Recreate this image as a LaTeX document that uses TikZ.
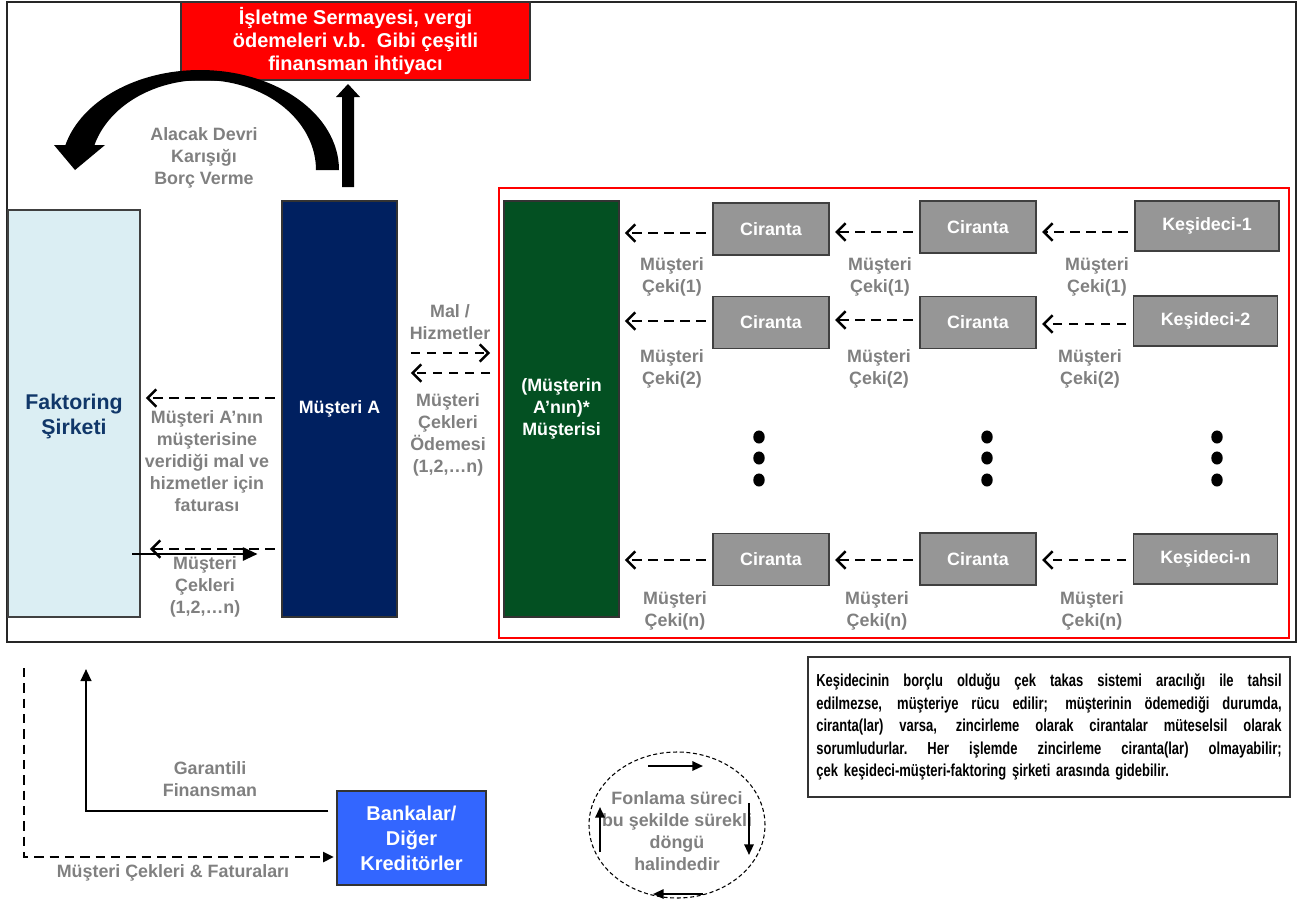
\documentclass[tikz,border=0pt]{standalone}
\usepackage{fontspec}
\setmainfont{Liberation Sans}
\newfontfamily\narrowfont[FakeStretch=0.75]{Liberation Sans}
\usetikzlibrary{arrows.meta,shapes.geometric}

\definecolor{ihtiyacred}{RGB}{255,0,0}
\definecolor{faktorfill}{RGB}{219,238,243}
\definecolor{faktortext}{RGB}{16,55,105}
\definecolor{musnavy}{RGB}{0,32,96}
\definecolor{musgreen}{RGB}{3,80,34}
\definecolor{cirgray}{RGB}{150,150,150}
\definecolor{lblgray}{RGB}{128,128,128}
\definecolor{bankblue}{RGB}{51,102,255}

\newcommand\boxfont{\fontsize{13.4pt}{16.5pt}\selectfont\bfseries}
\newcommand\notefont{\narrowfont\fontsize{13pt}{16.9pt}\selectfont\bfseries}
\newcommand\notline[1]{\leavevmode\hbox to 349pt{\spaceskip=0.22em plus 1fil\xspaceskip=0.22em plus 1fil #1}}

\begin{document}
\begin{tikzpicture}[
    x=0.75pt, y=-0.75pt, thick,
    tall box/.style={draw=black!80, minimum width=86.25pt, minimum height=312pt,
        font=\boxfont, align=center, text=white},
    ciranta box/.style={draw=black!75, line width=1.2pt, fill=cirgray,
        minimum width=87pt, minimum height=39pt, font=\boxfont, text=white},
    kesideci box/.style={ciranta box, minimum width=108pt, minimum height=37.5pt},
    lbl/.style={font=\boxfont, text=lblgray, align=center, inner sep=0pt},
    cek arrow/.style={line width=2.2pt, dash pattern=on 7pt off 5pt,
        -{Straight Barb[length=6.5pt,width=13pt,line width=1.9pt]},
        shorten <=5pt, shorten >=4pt},
    fin arrow/.style={line width=1.6pt, -{Triangle[length=9pt,width=8pt]}},
    loop arrow/.style={line width=1.5pt, -{Triangle[length=8pt,width=7pt]}}
]
    \useasboundingbox (0,0) rectangle (1299,901);
    \draw[line width=1.3pt, black!85] (7,2) rectangle (1296,642);

    % top: financing need
    \node[draw=black!80, fill=ihtiyacred, minimum width=261.75pt, minimum height=58.5pt,
        text=white, align=center, font=\fontsize{15pt}{17.6pt}\selectfont\bfseries]
        (ihtiyac) at (355.5,41) {İşletme Sermayesi, vergi\\ödemeleri v.b.\ \ Gibi çeşitli\\finansman ihtiyacı};
    \fill (342,187) -- (342,97) -- (336,97) -- (348,84) -- (360,97) -- (354,97) -- (354,187) -- cycle;
    \fill (339,170) arc[start angle=0, end angle=165.52, x radius=104.25pt, y radius=75pt]
        -- (54,145) -- (75,170) -- (105,145) -- (94.45,145)
        arc[start angle=163.86, end angle=0, x radius=84.75pt, y radius=67.5pt] -- cycle;
    \node[lbl] (alacak) at (204,158) {Alacak Devri\\Karışığı\\Borç Verme};

    % left part
    \node[draw=black!75, fill=faktorfill, minimum width=99pt, minimum height=305.25pt]
        (faktoring) at (74,413.5) {};
    \node[text=faktortext, align=center, font=\fontsize{16pt}{18.75pt}\selectfont\bfseries]
        (faktorad) at (faktoring.center) [yshift=-2pt] {Faktoring\\Şirketi};
    \node[tall box, fill=musnavy] (musteriA) at (339.5,409) {Müşteri A};
    \node[tall box, fill=musgreen] (musterisi) at (561.5,409) {(Müşterin\\A’nın)*\\Müşterisi};

    \draw[cek arrow] (musteriA.west |- 0,398) -- (faktoring.east |- 0,398);
    \node[lbl] (fatura) at (207,461) {Müşteri A’nın\\müşterisine\\veridiği mal ve\\hizmetler için\\faturası};
    \draw[cek arrow, shorten >=7pt] (musteriA.west |- 0,549) -- (faktoring.east |- 0,549);
    \coordinate (cekstart) at (132,554);
    \draw[line width=1.5pt, -{Triangle[length=11pt,width=10pt]}, shorten >=18pt]
        (cekstart) -- (musteriA.west |- cekstart);
    \node[lbl] (cekler) at (205,587) {Müşteri\\Çekleri\\(1,2,…n)};

    \draw[cek arrow, shorten <=10pt, shorten >=10pt] (musteriA.east |- 0,353) -- (musterisi.west |- 0,353);
    \draw[cek arrow, shorten <=10pt, shorten >=10pt] (musterisi.west |- 0,373) -- (musteriA.east |- 0,373);
    \node[lbl] (mal) at (450,322) {Mal /\\Hizmetler};
    \node[lbl] (odeme) at (448,435) {Müşteri\\Çekleri\\Ödemesi\\(1,2,…n)};

    % endorsement chain
    \draw[red, line width=1.6pt] (499,188) rectangle (1289,638);
    \node[ciranta box] (c11) at (771,229) {Ciranta};
    \node[ciranta box] (c12) at (978,227) {Ciranta};
    \node[kesideci box] (k1) at (1207,226) {Keşideci-1};
    \node[ciranta box] (c21) at (771,322.5) {Ciranta};
    \node[ciranta box] (c22) at (978,322.5) {Ciranta};
    \node[kesideci box] (k2) at (1205.5,321) {Keşideci-2};
    \node[ciranta box] (cn1) at (771,559.5) {Ciranta};
    \node[ciranta box] (cn2) at (978,559) {Ciranta};
    \node[kesideci box] (kn) at (1205.5,559) {Keşideci-n};

    \draw[cek arrow] (k1.west |- 0,232) -- (c12.east |- 0,232);
    \draw[cek arrow] (c12.west |- 0,232) -- (c11.east |- 0,232);
    \draw[cek arrow] (c11.west |- 0,233) -- (musterisi.east |- 0,233);
    \draw[cek arrow] (k2.west |- 0,324) -- (c22.east |- 0,324);
    \draw[cek arrow] (c22.west |- 0,320) -- (c21.east |- 0,320);
    \draw[cek arrow] (c21.west |- 0,321) -- (musterisi.east |- 0,321);
    \draw[cek arrow] (kn.west |- 0,560) -- (cn2.east |- 0,560);
    \draw[cek arrow] (cn2.west |- 0,560) -- (cn1.east |- 0,560);
    \draw[cek arrow] (cn1.west |- 0,560) -- (musterisi.east |- 0,560);

    \node[lbl] (cek11) at (672,276.5) {Müşteri\\Çeki(1)};
    \node[lbl] (cek12) at (880,276.5) {Müşteri\\Çeki(1)};
    \node[lbl] (cek13) at (1097,276.5) {Müşteri\\Çeki(1)};
    \node[lbl] (cek21) at (672,369) {Müşteri\\Çeki(2)};
    \node[lbl] (cek22) at (879,369) {Müşteri\\Çeki(2)};
    \node[lbl] (cek23) at (1090,369) {Müşteri\\Çeki(2)};
    \node[lbl] (cekn1) at (675,610.5) {Müşteri\\Çeki(n)};
    \node[lbl] (cekn2) at (877,610.5) {Müşteri\\Çeki(n)};
    \node[lbl] (cekn3) at (1092,610.5) {Müşteri\\Çeki(n)};

    \fill (759,437) ellipse [x radius=4.3pt, y radius=4.9pt];
    \fill (759,458) ellipse [x radius=4.3pt, y radius=4.9pt];
    \fill (759,480) ellipse [x radius=4.3pt, y radius=4.9pt];
    \fill (987,437) ellipse [x radius=4.3pt, y radius=4.9pt];
    \fill (987,458) ellipse [x radius=4.3pt, y radius=4.9pt];
    \fill (987,480) ellipse [x radius=4.3pt, y radius=4.9pt];
    \fill (1217,437) ellipse [x radius=4.3pt, y radius=4.9pt];
    \fill (1217,458) ellipse [x radius=4.3pt, y radius=4.9pt];
    \fill (1217,480) ellipse [x radius=4.3pt, y radius=4.9pt];

    % bottom: banks
    \node[draw=black!80, fill=bankblue, minimum width=111.75pt, minimum height=70.5pt,
        text=white, align=center, font=\fontsize{15pt}{18.75pt}\selectfont\bfseries]
        (banka) at (411.5,838) {Bankalar/\\Diğer\\Kreditörler};
    \coordinate (finans) at (86,669);
    \coordinate (cekfatura) at (24,668);
    \draw[fin arrow, shorten <=6pt] (banka.west |- 0,811) -- (finans |- 0,811) -- (finans);
    \draw[line width=1.6pt, dash pattern=on 7pt off 4.5pt, -{Triangle[length=8pt,width=7.5pt]}, shorten >=2pt]
        (cekfatura) -- (cekfatura |- 0,857) -- (banka.west |- 0,857);
    \node[lbl] (garantili) at (210,779) {Garantili\\Finansman};
    \node[lbl] (cekfat) at (173,873) {Müşteri Çekleri \& Faturaları};

    % funding loop
    \node[ellipse, draw, line width=0.8pt, dash pattern=on 3pt off 2pt,
        minimum width=132pt, minimum height=109.5pt] (dongu) at (677,825) {};
    \node[lbl] (fonlama) at (677,831) {Fonlama süreci\\bu şekilde sürekli\\döngü\\halindedir};
    \draw[loop arrow] ([shift={(-29,-59)}]dongu.center) -- ++(55,0);
    \draw[loop arrow] ([shift={(72,-22)}]dongu.center) -- ++(0,52);
    \draw[loop arrow] ([shift={(26,69)}]dongu.center) -- ++(-50,0);
    \draw[loop arrow] ([shift={(-77,27)}]dongu.center) -- ++(0,-45);

    % note
    \node[draw=black!80, line width=1pt, text width=349pt, minimum height=105pt,
        inner xsep=6.25pt, font=\notefont, align=left] (notkutu) at (1049,727)
        {\notline{Keşidecinin borçlu olduğu çek takas sistemi aracılığı ile tahsil}\\
         \notline{edilmezse, müşteriye rücu edilir; müşterinin ödemediği durumda,}\\
         \notline{ciranta(lar) varsa, zincirleme olarak cirantalar müteselsil olarak}\\
         \notline{sorumludurlar. Her işlemde zincirleme ciranta(lar) olmayabilir;}\\
         çek keşideci-müşteri-faktoring şirketi arasında gidebilir.};
\end{tikzpicture}
\end{document}
